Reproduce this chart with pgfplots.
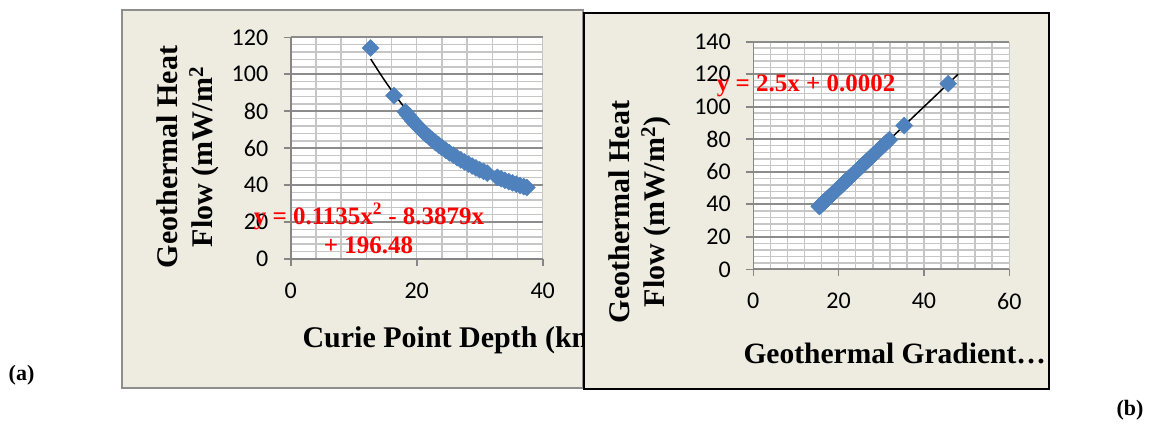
\documentclass[border=0pt]{standalone}
\usepackage{pgfplots}
\pgfplotsset{compat=1.18}
\usepackage{fontspec}
\setmainfont{Liberation Serif}
\newfontfamily\ticfont{Carlito}
\definecolor{bgc}{HTML}{EEECE1}
\definecolor{mblue}{HTML}{4F81BD}
\definecolor{axgray}{HTML}{868686}
\definecolor{gridmaj}{HTML}{8C8C8C}
\definecolor{gridmin}{HTML}{C6C6C6}
\definecolor{frameg}{HTML}{8E8E8E}
\pgfplotsset{
  myax/.style={
    scale only axis,
    axis lines=left,
    axis line style={-, draw=axgray, line width=1.6pt},
    tick align=outside,
    major tick length=7pt,
    minor tick length=0pt,
    tick style={axgray, line width=1.6pt},
    xmajorgrids, xminorgrids, ymajorgrids, yminorgrids,
    major x grid style={gridmin, line width=1.5pt},
    minor x grid style={gridmin, line width=1.5pt},
    major y grid style={gridmaj, line width=1.7pt},
    minor y grid style={gridmin, line width=1.5pt},
    minor tick num=4,
    axis background/.style={fill=white},
    ticklabel style={font=\ticfont\fontsize{24}{28}\selectfont, black},
    xticklabel style={yshift=-13pt},
    yticklabel style={xshift=-12pt},
    /pgf/number format/assume math mode=true,
    mymark/.style={only marks, mark=square*, mark size=6pt,
      mark options={rotate=45, fill=mblue, draw=mblue}, color=mblue},
  }
}
\begin{document}
\begin{tikzpicture}[x=1pt,y=1pt]
\useasboundingbox (0,0) rectangle (1151,424);
% ---------------- panel (a)
\draw[frameg, line width=1.3pt, fill=bgc] (122,36) rectangle (583,414);
\begin{axis}[myax, at={(290.7pt,165pt)}, anchor=south west,
  width=252pt, height=221.7pt,
  xmin=0, xmax=40, ymin=0, ymax=120,
  xtick={0,20,40}, ytick={0,20,40,60,80,100,120}]
\addplot[mymark] coordinates {
(12.7,114.2) (16.4,88.4) (18.2,79.7) (18.6,78.0) (19.0,76.3) (19.4,74.7)
(19.8,73.2) (20.2,71.8) (20.6,70.4) (21.0,69.0) (21.5,67.4) (22.0,65.9)
(22.5,64.4) (23.0,63.0) (23.5,61.7) (24.0,60.4) (24.6,58.9) (25.2,57.5)
(25.8,56.2) (26.4,54.9) (27.0,53.7) (27.6,52.5) (28.2,51.4) (28.8,50.3)
(29.4,49.3) (30.0,48.3) (30.6,47.4) (31.2,46.5) (32.8,44.2) (33.4,43.4)
(34.0,42.6) (34.6,41.9) (35.2,41.2) (35.8,40.5) (36.4,39.8) (37.0,39.2)
(37.5,38.7)};
\addplot[black, line width=1.5pt, smooth, no marks] coordinates {
(12.7,108.26) (15,96.20) (17.5,84.45) (20,74.12) (22.5,65.21) (25,57.72)
(27.5,51.65) (30,46.99) (32.5,43.76) (35,41.94) (37.5,41.54)};
\end{axis}
\node[rotate=90, align=center, font=\bfseries\fontsize{30}{35}\selectfont] at (187.5,267) {Geothermal Heat\\Flow (mW/m\textsuperscript{2}};
\node[anchor=base, red, font=\bfseries\fontsize{25}{29}\selectfont] at (369,200) {y = 0.1135x\textsuperscript{2} - 8.3879x};
\node[anchor=base, red, font=\bfseries\fontsize{25}{29}\selectfont] at (368.5,170.7) {+ 196.48};
\begin{scope}
\clip (122,36) rectangle (583,414);
\node[anchor=base west, font=\bfseries\fontsize{30}{36}\selectfont] at (299,77) {Curie Point Depth (km)};
\end{scope}
% ---------------- panel (b)
\draw[black, line width=2pt, fill=bgc] (584,35) rectangle (1049,411);
\begin{axis}[myax, at={(753.3pt,154.7pt)}, anchor=south west,
  width=256pt, height=227.6pt,
  xmin=0, xmax=60, ymin=0, ymax=140,
  xtick={0,20,40,60}, ytick={0,20,40,60,80,100,120,140}]
\addplot[mymark] coordinates {
(45.68,114.2) (35.36,88.4) (31.88,79.7) (31.2,78.0) (30.52,76.3) (29.88,74.7)
(29.28,73.2) (28.72,71.8) (28.16,70.4) (27.6,69.0) (26.96,67.4) (26.36,65.9)
(25.76,64.4) (25.2,63.0) (24.68,61.7) (24.16,60.4) (23.56,58.9) (23.0,57.5)
(22.48,56.2) (21.96,54.9) (21.48,53.7) (21.0,52.5) (20.56,51.4) (20.12,50.3)
(19.72,49.3) (19.32,48.3) (18.96,47.4) (18.6,46.5) (17.68,44.2) (17.36,43.4)
(17.04,42.6) (16.76,41.9) (16.48,41.2) (16.2,40.5) (15.92,39.8) (15.68,39.2)
(15.48,38.7)};
\addplot[black, line width=1.5pt, no marks] coordinates {(15.5,38.75) (48,120.0)};
\end{axis}
\node[rotate=90, align=center, font=\bfseries\fontsize{30}{35}\selectfont] at (639.5,212) {Geothermal Heat\\Flow (mW/m\textsuperscript{2})};
\node[anchor=base, red, font=\bfseries\fontsize{25}{29}\selectfont] at (806,332.3) {y = 2.5x + 0.0002};
\node[anchor=base west, font=\bfseries\fontsize{29.5}{36}\selectfont] at (740,61) {Geothermal Gradient…};
% ---------------- panel tags
\node[font=\bfseries\fontsize{22}{26}\selectfont] at (21.5,49) {(a)};
\node[font=\bfseries\fontsize{22}{26}\selectfont] at (1130,14) {(b)};
\end{tikzpicture}
\end{document}
